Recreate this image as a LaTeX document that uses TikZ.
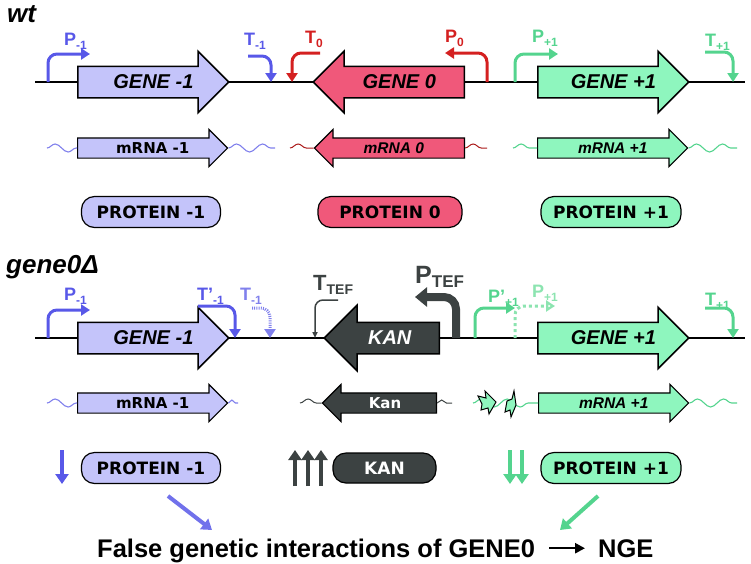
\documentclass[tikz,border=0pt]{standalone}
\usepackage{fontspec}
\setmainfont{Liberation Sans}
\newfontfamily\dejavu{DejaVu Sans}
\usetikzlibrary{arrows.meta,shapes.arrows,decorations.pathmorphing,calc}

\definecolor{pblue}{RGB}{88,88,232}
\definecolor{plav}{RGB}{196,196,250}
\definecolor{lblue}{RGB}{128,128,236}
\definecolor{pred}{RGB}{212,32,32}
\definecolor{ppink}{RGB}{240,88,122}
\definecolor{pgreen}{RGB}{84,212,142}
\definecolor{pmint}{RGB}{142,246,190}
\definecolor{lgreen}{RGB}{140,228,176}
\definecolor{kgray}{RGB}{60,66,66}

\newcommand\lsub[2][12]{\raisebox{-.45ex}{\fontsize{#1}{#1}\selectfont #2}}

\begin{document}
\begin{tikzpicture}[x=1pt,y=-1pt,
  dna/.style={line width=1.5pt},
  gene/.style={single arrow, draw=black, line width=1.5pt, minimum height=151pt,
    single arrow head extend=15pt, text height=22pt, text depth=8pt, inner ysep=0pt},
  gtxt/.style={inner sep=0pt, font=\bfseries\itshape\fontsize{20}{20}\selectfont},
  mrna/.style={single arrow, draw=black, line width=1.2pt, minimum height=150pt,
    single arrow head extend=8.5pt, text height=15pt, text depth=4pt, inner ysep=0pt},
  mtxt/.style={inner sep=0pt, font=\dejavu\bfseries\fontsize{15}{15}\selectfont},
  mitxt/.style={inner sep=0pt, font=\bfseries\itshape\fontsize{15.5}{15.5}\selectfont},
  prot/.style={draw=black, line width=1.2pt, rounded corners=13pt, minimum width=139pt,
    minimum height=31pt, font=\dejavu\bfseries\fontsize{17}{17}\selectfont},
  prom/.style={line width=3pt, rounded corners=9pt, -{Triangle[length=9pt,width=11pt]}},
  wave/.style={line width=1.1pt, decorate, decoration={snake, segment length=26pt, amplitude=4pt}},
  lab/.style={anchor=base west, inner sep=0pt, font=\bfseries\fontsize{18}{18}\selectfont},
  head/.style={anchor=base west, inner sep=0pt, font=\bfseries\itshape\fontsize{26}{26}\selectfont},
  bigarr/.style={line width=4pt, -{Triangle[length=10pt,width=13pt]}},
]
\useasboundingbox (0,0) rectangle (751,563);

% ---- wild type ----
\node[head] (wt) at (7,22) {wt};
\coordinate (aL) at (35,82);
\coordinate (aR) at (745,82);
\draw[dna] (aL) -- (aR);

\node[gene, fill=plav, anchor=tail] (g1) at (77,82) {};
\node[gene, fill=ppink, anchor=tail, shape border rotate=180] (g0) at (465,82) {};
\node[gene, fill=pmint, anchor=tail] (g2) at (537,82) {};
\node[gtxt] (g1t) at ($(g1.tail)!.5!(g1.tip)$) {GENE -1};
\node[gtxt] (g0t) at ($(g0.tail)!.43!(g0.tip)$) {GENE 0};
\node[gtxt] (g2t) at ($(g2.tail)!.5!(g2.tip)$) {GENE +1};

% promoters and terminators
\coordinate (pA1) at (48,82);  \coordinate (pB1) at (90,54);
\coordinate (tA1) at (248,56); \coordinate (tB1) at (271,82);
\coordinate (tA0) at (320,53); \coordinate (tB0) at (292,82);
\coordinate (pA0) at (487,82); \coordinate (pB0) at (445,53);
\coordinate (pA2) at (515,82); \coordinate (pB2) at (558,54);
\coordinate (tA2) at (705,52); \coordinate (tB2) at (733,82);
\draw[prom, pblue] (pA1) |- (pB1);
\draw[prom, pblue] (tA1) -| (tB1);
\draw[prom, pred] (tA0) -| (tB0);
\draw[prom, pred] (pA0) |- (pB0);
\draw[prom, pgreen] (pA2) |- (pB2);
\draw[prom, pgreen] (tA2) -| (tB2);
\node[lab, pblue] (lp1) at (64,45) {P\lsub{-1}};
\node[lab, pblue] (lt1) at (244,45) {T\lsub{-1}};
\node[lab, pred] (lt0) at (305,43) {T\lsub{0}};
\node[lab, pred] (lp0) at (445,42) {P\lsub{0}};
\node[lab, pgreen] (lp2) at (532,42) {P\lsub{+1}};
\node[lab, pgreen] (lt2) at (705,46) {T\lsub{+1}};

% transcripts
\node[mrna, fill=plav, anchor=tail] (m1) at (77,148) {};
\node[mrna, fill=ppink, anchor=tail, shape border rotate=180] (m0) at (465,148) {};
\node[mrna, fill=pmint, anchor=tail] (m2) at (537,148) {};
\node[mtxt] (m1t) at ($(m1.tail)!.5!(m1.tip)$) {mRNA -1};
\node[mitxt] (m0t) at ($(m0.tail)!.47!(m0.tip)$) {mRNA 0};
\node[mitxt] (m2t) at ($(m2.tail)!.5!(m2.tip)$) {mRNA +1};
\coordinate (w1a) at (47,148);  \coordinate (w1b) at (275,148);
\coordinate (w0a) at (290,148); \coordinate (w0b) at (487,148);
\coordinate (w2a) at (513,148); \coordinate (w2b) at (737,148);
\draw[wave, lblue] (w1a) -- (m1.tail);
\draw[wave, lblue] (m1.tip) -- (w1b);
\draw[wave, pred!80!black, line width=1pt] (w0a) -- (m0.tip);
\draw[wave, pred!80!black, line width=1pt] (m0.tail) -- (w0b);
\draw[wave, pgreen] (w2a) -- (m2.tail);
\draw[wave, pgreen] (m2.tip) -- (w2b);

% proteins
\node[prot, fill=plav] (p1) at (151,212) {PROTEIN -1};
\node[prot, fill=ppink, minimum width=144pt] (p0) at (390,212) {PROTEIN 0};
\node[prot, fill=pmint, minimum width=140pt] (p2) at (611,212) {PROTEIN +1};

% ---- deletion ----
\node[head] (del) at (6,273) {gene0Δ};
\coordinate (bL) at (35,338);
\coordinate (bR) at (745,338);
\draw[dna] (bL) -- (bR);

\node[gene, fill=plav, anchor=tail] (h1) at (77,338) {};
\node[gene, fill=kgray, anchor=tail, shape border rotate=180, minimum height=115pt,
  single arrow head extend=17pt] (kan) at (440,338) {};
\node[gene, fill=pmint, anchor=tail] (h2) at (537,338) {};
\node[gtxt] (h1t) at ($(h1.tail)!.5!(h1.tip)$) {GENE -1};
\node[gtxt, white] (kant) at ($(kan.tail)!.43!(kan.tip)$) {KAN};
\node[gtxt] (h2t) at ($(h2.tail)!.5!(h2.tip)$) {GENE +1};

\coordinate (qA1) at (48,338);  \coordinate (qB1) at (90,310);
\coordinate (sA1) at (198,306); \coordinate (sB1) at (235,338);
\coordinate (uA1) at (252,308); \coordinate (uB1) at (270,338);
\coordinate (sAk) at (338,300); \coordinate (sBk) at (315,338);
\coordinate (qAk) at (456,338); \coordinate (qBk) at (415,297);
\coordinate (qA2) at (475,338); \coordinate (qB2) at (515,308);
\coordinate (uA2) at (515,338); \coordinate (uB2) at (555,306);
\coordinate (sA2) at (705,308); \coordinate (sB2) at (733,338);
\draw[prom, pblue] (qA1) |- (qB1);
\draw[prom, pblue] (sA1) -| (sB1);
\draw[prom, lblue, dash pattern=on 1pt off 1.2pt] (uA1) -| (uB1);
\draw[kgray, line width=1.5pt, rounded corners=8pt, -{Triangle[length=6pt,width=5pt]}] (sAk) -| (sBk);
\draw[kgray, line width=8pt, rounded corners=12pt, -{Triangle[length=12pt,width=19pt]}] (qAk) |- (qBk);
\draw[prom, pgreen] (qA2) |- (qB2);
\draw[prom, lgreen, dashed, -{Triangle[open,length=9pt,width=11pt]}] (uA2) |- (uB2);
\draw[prom, pgreen] (sA2) -| (sB2);
\node[lab, pblue] (lq1) at (64,300) {P\lsub{-1}};
\node[lab, pblue] (ls1) at (197,300) {T'\lsub{-1}};
\node[lab, lblue] (lu1) at (240,300) {T\lsub{-1}};
\node[lab, kgray] (lsk) at (313,290) {{\fontsize{22}{22}\selectfont T}\lsub[14]{TEF}};
\node[lab, kgray] (lqk) at (415,283) {{\fontsize{25}{25}\selectfont P}\lsub[17]{TEF}};
\node[lab, pgreen] (lq2) at (488,302) {P'\lsub{+1}};
\node[lab, lgreen] (lu2) at (532,297) {P\lsub{+1}};
\node[lab, pgreen] (ls2) at (705,305) {T\lsub{+1}};

% transcripts
\node[mrna, fill=plav, anchor=tail] (n1) at (77,403) {};
\node[mrna, fill=kgray, anchor=tail, shape border rotate=180, minimum height=114pt] (nk) at (437,403) {};
\node[mrna, fill=pmint, anchor=tail] (n2) at (538,403) {};
\node[mtxt] (n1t) at ($(n1.tail)!.5!(n1.tip)$) {mRNA -1};
\node[mtxt, white] (nkt) at ($(nk.tail)!.45!(nk.tip)$) {Kan};
\node[mitxt] (n2t) at ($(n2.tail)!.5!(n2.tip)$) {mRNA +1};
\coordinate (v1a) at (47,403);  \coordinate (v1b) at (238,403);
\coordinate (vka) at (300,403); \coordinate (vkb) at (452,403);
\coordinate (v2a) at (473,403); \coordinate (v2b) at (737,403);
\draw[wave, lblue] (v1a) -- (n1.tail);
\draw[wave, lblue, decoration={snake, segment length=11pt, amplitude=3pt}] (n1.tip) -- (v1b);
\draw[wave, kgray, line width=1pt] (vka) -- (nk.tip);
\draw[wave, kgray, line width=1pt, decoration={snake, segment length=15pt, amplitude=3pt}] (nk.tail) -- (vkb);
\draw[wave, pgreen] (v2a) -- (n2.tail);
\draw[wave, pgreen] (n2.tip) -- (v2b);
% broken pieces
\draw[fill=pmint, line width=1pt] (478,396) -- (486,398) -- (485,391) -- (496,402)
  -- (489,414) -- (488,408) -- (481,410) -- (482,404) -- cycle;
\draw[fill=pmint, line width=1pt] (507,401) -- (512,399) -- (514,391) -- (516,405)
  -- (511,417) -- (510,410) -- (505,412) -- cycle;

% proteins
\node[prot, fill=plav] (q1) at (151,468) {PROTEIN -1};
\node[prot, fill=kgray, text=white, minimum width=103pt, minimum height=30pt] (qk) at (384.5,468) {KAN};
\node[prot, fill=pmint, minimum width=140pt] (q2) at (611,468) {PROTEIN +1};

\coordinate (d1a) at (62,450);  \coordinate (d1b) at (62,484);
\coordinate (k1a) at (295,486); \coordinate (k1b) at (295,450);
\coordinate (k2a) at (308,486); \coordinate (k2b) at (308,450);
\coordinate (k3a) at (321,486); \coordinate (k3b) at (321,450);
\coordinate (e1a) at (510,450); \coordinate (e1b) at (510,484);
\coordinate (e2a) at (522,450); \coordinate (e2b) at (522,484);
\draw[bigarr, pblue, line width=3.5pt] (d1a) -- (d1b);
\draw[bigarr, kgray] (k1a) -- (k1b);
\draw[bigarr, kgray] (k2a) -- (k2b);
\draw[bigarr, kgray] (k3a) -- (k3b);
\draw[bigarr, pgreen] (e1a) -- (e1b);
\draw[bigarr, pgreen] (e2a) -- (e2b);

% outcome
\node[anchor=base west, inner sep=0pt, font=\bfseries\fontsize{25.5}{25.5}\selectfont] (fgi) at (97,557)
  {False genetic interactions of GENE0};
\node[anchor=base west, inner sep=0pt, font=\bfseries\fontsize{25.5}{25.5}\selectfont] (nge) at (598,557) {NGE};
\draw[line width=2.5pt, -{Triangle[length=10pt,width=10pt]}, shorten <=14pt, shorten >=13pt]
  (fgi.east |- nge.west) -- (nge.west);
\coordinate (x1a) at (168,496); \coordinate (x1b) at (212,530);
\coordinate (x2a) at (598,496); \coordinate (x2b) at (560,530);
\draw[bigarr, pblue!85!white] (x1a) -- (x1b);
\draw[bigarr, pgreen] (x2a) -- (x2b);
\end{tikzpicture}
\end{document}
